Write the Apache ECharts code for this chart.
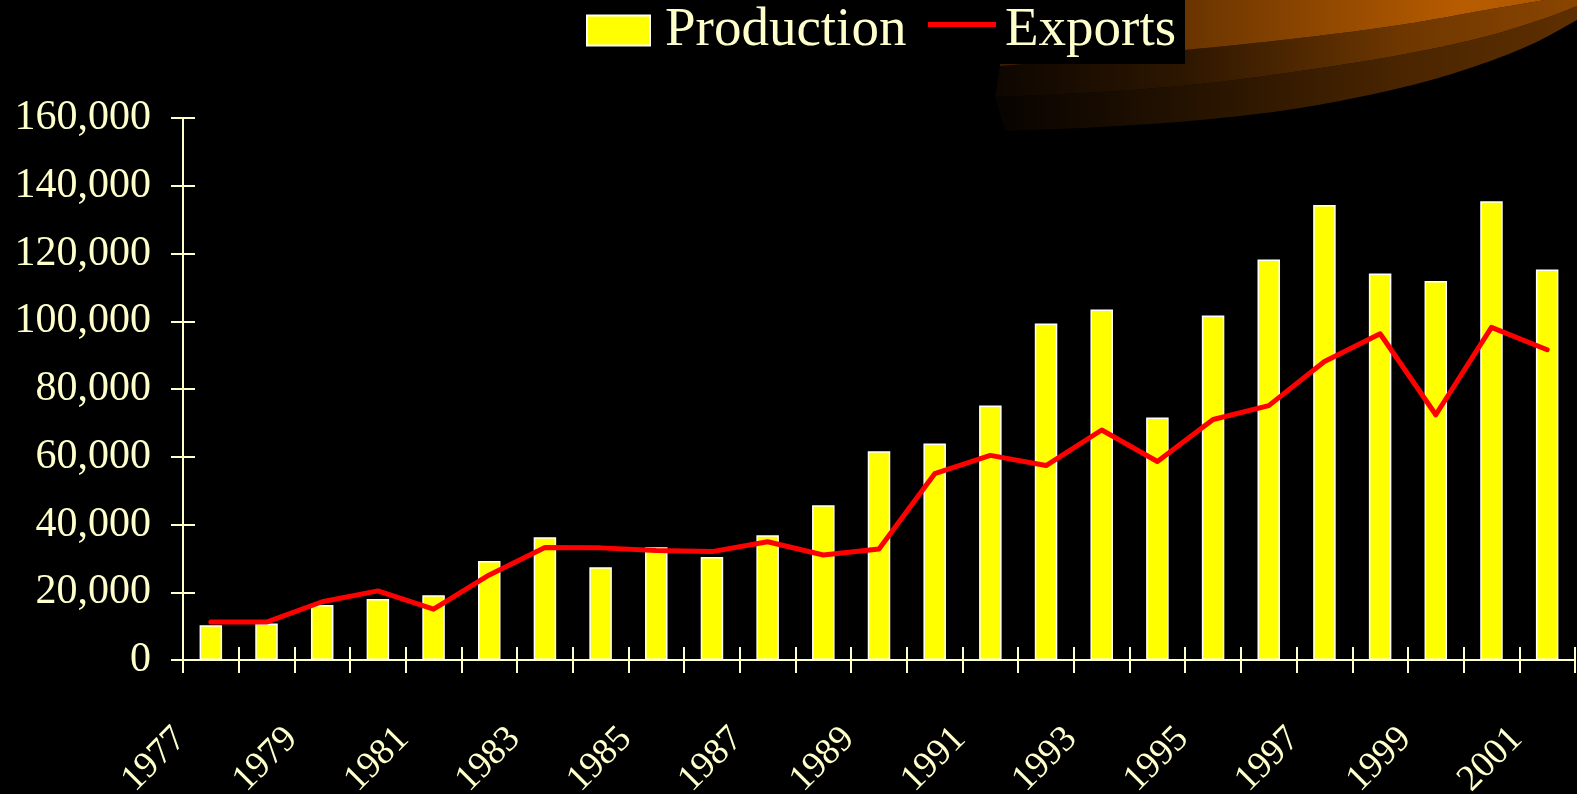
<!DOCTYPE html>
<html>
<head>
<meta charset="utf-8">
<script src="https://cdn.jsdelivr.net/npm/echarts@6/dist/echarts.min.js"></script>
<style>
html,body{margin:0;padding:0;background:#000;}
#chart{width:1577px;height:794px;}
</style>
</head>
<body>
<div id="chart"></div>
<script>
var years = ['1977','1978','1979','1980','1981','1982','1983','1984','1985','1986','1987','1988','1989','1990','1991','1992','1993','1994','1995','1996','1997','1998','1999','2000','2001'];
var production = [10250, 10800, 16200, 18000, 19100, 29200, 36200, 27400, 33300, 30400, 36800, 45700, 61600, 63900, 75100, 99300, 103500, 71600, 101700, 118200, 134300, 114100, 111900, 135400, 115300];
var exportsData = [11200, 11200, 17200, 20400, 15000, 25100, 33200, 33100, 32300, 32000, 34900, 31000, 32800, 55000, 60400, 57400, 67900, 58600, 71000, 75100, 88100, 96300, 72400, 98200, 91600];
var yTickLabels = ['0','20,000','40,000','60,000','80,000','100,000','120,000','140,000','160,000'];

var CREAM = '#FFFFCC';
var FONT = 'Liberation Serif';

// decorative swoosh (background ornament)
function spline(pts, n) {
  var out = [];
  for (var i = 0; i < pts.length - 1; i++) {
    var p0 = pts[Math.max(0, i - 1)], p1 = pts[i], p2 = pts[i + 1], p3 = pts[Math.min(pts.length - 1, i + 2)];
    for (var t = 0; t < n; t++) {
      var s = t / n, s2 = s * s, s3 = s2 * s;
      out.push([
        0.5 * ((2 * p1[0]) + (-p0[0] + p2[0]) * s + (2 * p0[0] - 5 * p1[0] + 4 * p2[0] - p3[0]) * s2 + (-p0[0] + 3 * p1[0] - 3 * p2[0] + p3[0]) * s3),
        0.5 * ((2 * p1[1]) + (-p0[1] + p2[1]) * s + (2 * p0[1] - 5 * p1[1] + 4 * p2[1] - p3[1]) * s2 + (-p0[1] + 3 * p1[1] - 3 * p2[1] + p3[1]) * s3)
      ]);
    }
  }
  out.push(pts[pts.length - 1]);
  return out;
}
var curveA = spline([[1000,66],[1185,50],[1300,38],[1400,25],[1480,11],[1545,0]], 12);
var curveB = spline([[995,97],[1100,92],[1200,84],[1300,71],[1400,55],[1480,38],[1540,20],[1577,6]], 12);
var curveC = spline([[1005,131],[1100,127],[1200,120],[1300,108],[1400,88],[1470,68],[1530,45],[1577,20]], 12);

var polyA = [[1000,0]].concat(curveA);
var polyB = curveA.concat([[1577,0]]).concat(curveB.slice().reverse());
var polyC = curveB.concat(curveC.slice().reverse());

function grad(stops) {
  return {type:'linear', x:0, y:0, x2:1, y2:0, colorStops: stops};
}

var chart = echarts.init(document.getElementById('chart'), null, {renderer:'canvas'});
chart.setOption({
  backgroundColor: '#000000',
  animation: false,
  graphic: [
    {type:'polygon', z:0, silent:true, shape:{points: polyC}, style:{fill: grad([{offset:0,color:'#070300'},{offset:0.35,color:'#261300'},{offset:0.7,color:'#4a2500'},{offset:1,color:'#5e2f00'}])}},
    {type:'polygon', z:0, silent:true, shape:{points: polyB}, style:{fill: grad([{offset:0,color:'#0d0600'},{offset:0.33,color:'#2e1700'},{offset:0.7,color:'#6e3700'},{offset:1,color:'#8a4500'}])}},
    {type:'polygon', z:0, silent:true, shape:{points: polyA}, style:{fill: grad([{offset:0,color:'#3a1d00'},{offset:0.35,color:'#6b3500'},{offset:0.85,color:'#b85c00'},{offset:1,color:'#b05800'}])}},
    {type:'rect', z:1, silent:true, shape:{x:571, y:0, width:614, height:64}, style:{fill:'#000000'}}
  ],
  legend: [
    {
      left: 586, top: 3, padding: 0,
      data: [{name:'Production', icon:'rect', itemStyle:{color:'#FFFF00', borderColor:'#FFFFFF', borderWidth:2}}],
      itemWidth: 63, itemHeight: 30,
      textStyle: {color: CREAM, fontFamily: FONT, fontSize: 55, padding:[0,0,0,10]}
    },
    {
      left: 928, top: 3.5, padding: 0,
      data: [{name:'Exports', icon:'path://M0,0L68,0L68,5L0,5Z M0,18L0.01,18', itemStyle:{color:'#FF0000', borderWidth:0}}],
      itemWidth: 68, itemHeight: 18,
      textStyle: {color: CREAM, fontFamily: FONT, fontSize: 55, padding:[0,0,0,4]}
    }
  ],
  grid: {left: 183, right: 2, top: 118, bottom: 134, containLabel: false, outerBoundsMode: 'none'},
  xAxis: [
    {
      type: 'category', data: years, position: 'bottom', boundaryGap: true,
      axisLine: {show: true, lineStyle: {color: CREAM, width: 2}},
      axisTick: {show: true, interval: 0, inside: false, length: 13, lineStyle: {color: CREAM, width: 2}},
      axisLabel: {show: true, interval: 1, rotate: 45, margin: 43, color: CREAM, fontFamily: FONT, fontSize: 37, padding: [0, 43, 0, 0]},
      splitLine: {show: false}
    },
    {
      type: 'category', data: years, position: 'bottom', boundaryGap: true,
      axisLine: {show: false},
      axisTick: {show: true, interval: 0, inside: true, length: 13, lineStyle: {color: CREAM, width: 2}},
      axisLabel: {show: false},
      splitLine: {show: false}
    }
  ],
  yAxis: [
    {
      type: 'value', min: 0, max: 160000, interval: 20000, position: 'left',
      axisLine: {show: true, lineStyle: {color: CREAM, width: 2}},
      axisTick: {show: true, inside: false, length: 12, lineStyle: {color: CREAM, width: 2}},
      axisLabel: {show: true, margin: 32, color: CREAM, fontFamily: FONT, fontSize: 42,
        formatter: function (v, i) { return yTickLabels[i]; }},
      splitLine: {show: false}
    },
    {
      type: 'value', min: 0, max: 160000, interval: 20000, position: 'left',
      axisLine: {show: false},
      axisTick: {show: true, inside: true, length: 12, lineStyle: {color: CREAM, width: 2}},
      axisLabel: {show: false},
      splitLine: {show: false}
    }
  ],
  series: [
    {
      name: 'Production', type: 'bar', xAxisIndex: 0, yAxisIndex: 0,
      data: production, barWidth: 22.5,
      itemStyle: {color: '#FFFF00', borderColor: '#FFFFFF', borderWidth: 1.5},
      z: 2
    },
    {
      name: 'Exports', type: 'line', xAxisIndex: 0, yAxisIndex: 0,
      data: exportsData, symbol: 'none', showSymbol: false,
      lineStyle: {color: '#FF0000', width: 5, cap: 'round', join: 'round'},
      itemStyle: {color: '#FF0000'},
      z: 3
    }
  ]
});
</script>
</body>
</html>
